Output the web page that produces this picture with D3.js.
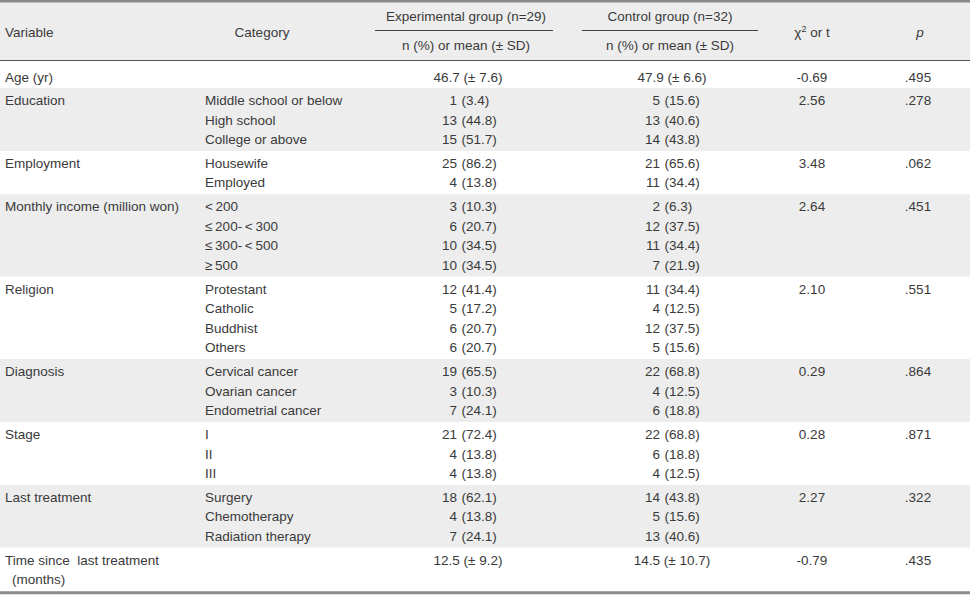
<!DOCTYPE html>
<html><head><meta charset="utf-8">
<script src="https://cdn.jsdelivr.net/npm/d3@7"></script>
<style>body{margin:0;background:#fff}svg text{font-family:"Liberation Sans",Arial,sans-serif;font-size:13.5px;fill:#3a3a3a;white-space:pre}</style>
</head><body><svg id="c" width="970" height="596"></svg>
<script>
// ---- data ----
const variables = ["Age (yr)", "Education", "Employment", "Monthly income (million won)", "Religion", "Diagnosis", "Stage", "Last treatment", "Time since  last treatment"];
const variableExtra = ["", "", "", "", "", "", "", "", "(months)"];
const categories = [
  [""],
  ["Middle school or below", "High school", "College or above"],
  ["Housewife", "Employed"],
  ["<\u2009200", "\u2264\u2009200-\u2009<\u2009300", "\u2264\u2009300-\u2009<\u2009500", "\u2265\u2009500"],
  ["Protestant", "Catholic", "Buddhist", "Others"],
  ["Cervical cancer", "Ovarian cancer", "Endometrial cancer"],
  ["I", "II", "III"],
  ["Surgery", "Chemotherapy", "Radiation therapy"],
  ["", ""]
];
const expCounts = [null, [1, 13, 15], [25, 4], [3, 6, 10, 10], [12, 5, 6, 6], [19, 3, 7], [21, 4, 4], [18, 4, 7], null];
const expPercents = [null, [3.4, 44.8, 51.7], [86.2, 13.8], [10.3, 20.7, 34.5, 34.5], [41.4, 17.2, 20.7, 20.7], [65.5, 10.3, 24.1], [72.4, 13.8, 13.8], [62.1, 13.8, 24.1], null];
const ctlCounts = [null, [5, 13, 14], [21, 11], [2, 12, 11, 7], [11, 4, 12, 5], [22, 4, 6], [22, 6, 4], [14, 5, 13], null];
const ctlPercents = [null, [15.6, 40.6, 43.8], [65.6, 34.4], [6.3, 37.5, 34.4, 21.9], [34.4, 12.5, 37.5, 15.6], [68.8, 12.5, 18.8], [68.8, 18.8, 12.5], [43.8, 15.6, 40.6], null];
const expMeans = [46.7, null, null, null, null, null, null, null, 12.5];
const expSDs = [7.6, null, null, null, null, null, null, null, 9.2];
const ctlMeans = [47.9, null, null, null, null, null, null, null, 14.5];
const ctlSDs = [6.6, null, null, null, null, null, null, null, 10.7];
const statValues = [-0.69, 2.56, 3.48, 2.64, 2.10, 0.29, 0.28, 2.27, -0.79];
const pValues = [0.495, 0.278, 0.062, 0.451, 0.551, 0.864, 0.871, 0.322, 0.435];
const headerGroups = ["Experimental group (n=29)", "Control group (n=32)"];
const subHeader = "n (%) or mean (\u00b1 SD)";

// ---- layout ----
const svg = d3.select("#c");
const W = 970;
const headTop = 2, headBottom = 60.5, lineH = 19.5;
const rowH = (i) => i === 0 ? 27.5 : categories[i].length * lineH + 4.4;
const tops = [];
let acc = headBottom;
variables.forEach((v, i) => { tops.push(acc); acc += rowH(i); });
const tableBottom = acc;
const rowY = d3.scaleOrdinal().domain(d3.range(variables.length)).range(tops);
const lineY = (i, k) => rowY(i) + (i === 0 ? 21 : 17) + k * lineH;

const col = {var: 5, cat: 205, expCnt: 457, expPct: 461.5, expMid: 466, ctlCnt: 660, ctlPct: 664.5, ctlMid: 670, stat: 812, p: 918};
const fmt1 = d3.format(".1f");
const fmt2 = (v) => d3.format(".2f")(v).replace("\u2212", "-");
const fmtP = (v) => d3.format(".3f")(v).replace(/^0/, "");

// header background
svg.append("rect").attr("x", 0).attr("y", headTop).attr("width", W).attr("height", headBottom - headTop).attr("fill", "#ededed");
// row bands
svg.selectAll("rect.band").data(variables).join("rect").attr("class", "band")
  .attr("x", 0).attr("y", (d, i) => rowY(i)).attr("width", W).attr("height", (d, i) => rowH(i))
  .attr("fill", (d, i) => i % 2 ? "#ededed" : "#fff");

// rules
svg.append("line").attr("x1", 0).attr("x2", W).attr("y1", 1.25).attr("y2", 1.25).attr("stroke", "#8a8a8a").attr("stroke-width", 2.5);
svg.append("line").attr("x1", 0).attr("x2", W).attr("y1", headBottom).attr("y2", headBottom).attr("stroke", "#555").attr("stroke-width", 1);
svg.append("line").attr("x1", 0).attr("x2", W).attr("y1", tableBottom + 1.5).attr("y2", tableBottom + 1.5).attr("stroke", "#8a8a8a").attr("stroke-width", 3);
[[375, 553], [582, 758]].forEach(([a, b]) => svg.append("line").attr("x1", a).attr("x2", b).attr("y1", 30.5).attr("y2", 30.5).attr("stroke", "#444").attr("stroke-width", 1));

// header texts
const hdr = svg.append("g");
hdr.append("text").attr("x", col.var).attr("y", 37).text("Variable");
hdr.append("text").attr("x", 262).attr("y", 37).attr("text-anchor", "middle").text("Category");
[col.expMid, col.ctlMid].forEach((x, j) => {
  hdr.append("text").attr("x", x).attr("y", 21).attr("text-anchor", "middle").text(headerGroups[j]);
  hdr.append("text").attr("x", x).attr("y", 50).attr("text-anchor", "middle").text(subHeader);
});
const chi = hdr.append("text").attr("x", col.stat).attr("y", 37).attr("text-anchor", "middle");
chi.append("tspan").text("\u03c7");
chi.append("tspan").attr("dy", -5).attr("font-size", "9px").text("2");
chi.append("tspan").attr("dy", 5).text(" or t");
hdr.append("text").attr("x", col.p + 2).attr("y", 37).attr("text-anchor", "middle").attr("font-style", "italic").text("p");

// body
const rows = svg.selectAll("g.row").data(variables).join("g").attr("class", "row");
rows.append("text").attr("x", col.var).attr("y", (d, i) => lineY(i, 0)).text(d => d);
rows.filter((d, i) => variableExtra[i]).append("text").attr("x", col.var + 7).attr("y", lineY(8, 1)).text(variableExtra[8]);

variables.forEach((v, i) => {
  const g = svg.append("g");
  categories[i].forEach((c, k) => {
    if (c) g.append("text").attr("x", col.cat).attr("y", lineY(i, k)).text(c);
  });
  if (expCounts[i]) {
    expCounts[i].forEach((n, k) => {
      g.append("text").attr("x", col.expCnt).attr("y", lineY(i, k)).attr("text-anchor", "end").text(n);
      g.append("text").attr("x", col.expPct).attr("y", lineY(i, k)).text("(" + fmt1(expPercents[i][k]) + ")");
      g.append("text").attr("x", col.ctlCnt).attr("y", lineY(i, k)).attr("text-anchor", "end").text(ctlCounts[i][k]);
      g.append("text").attr("x", col.ctlPct).attr("y", lineY(i, k)).text("(" + fmt1(ctlPercents[i][k]) + ")");
    });
  }
  if (expMeans[i] != null) {
    g.append("text").attr("x", col.expMid + 2).attr("y", lineY(i, 0)).attr("text-anchor", "middle").text(fmt1(expMeans[i]) + " (\u00b1 " + fmt1(expSDs[i]) + ")");
    g.append("text").attr("x", col.ctlMid + 2).attr("y", lineY(i, 0)).attr("text-anchor", "middle").text(fmt1(ctlMeans[i]) + " (\u00b1 " + fmt1(ctlSDs[i]) + ")");
  }
  g.append("text").attr("x", col.stat).attr("y", lineY(i, 0)).attr("text-anchor", "middle").text(fmt2(statValues[i]));
  g.append("text").attr("x", col.p).attr("y", lineY(i, 0)).attr("text-anchor", "middle").text(fmtP(pValues[i]));
});
</script></body></html>
